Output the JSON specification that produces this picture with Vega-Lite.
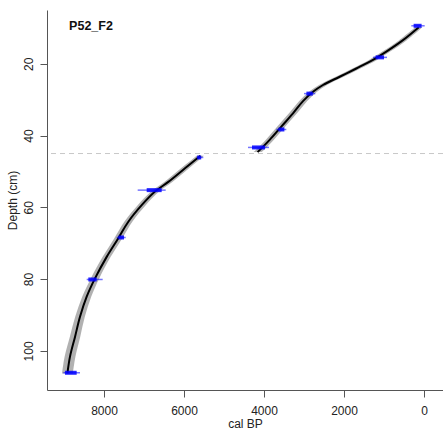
{
  "$schema": "https://vega.github.io/schema/vega-lite/v6.json",
  "width": 396,
  "height": 380,
  "autosize": {"type": "none"},
  "padding": {"left": 47, "top": 10, "right": 0, "bottom": 40},
  "background": "white",
  "config": {
    "view": {"stroke": null},
    "font": "Liberation Sans",
    "axis": {
      "grid": false,
      "domainColor": "#555555",
      "tickColor": "#555555",
      "tickSize": 7,
      "labelFont": "Liberation Sans",
      "labelFontSize": 12,
      "labelColor": "#222222",
      "titleFont": "Liberation Sans",
      "titleFontSize": 12,
      "titleFontWeight": "normal",
      "titleColor": "#222222"
    }
  },
  "datasets": {
    "model": [
      {"seg": "upper", "depth": 9.8, "age": 130, "lo": 40, "hi": 220},
      {"seg": "upper", "depth": 13.4, "age": 525, "lo": 430, "hi": 620},
      {"seg": "upper", "depth": 16.6, "age": 942, "lo": 845, "hi": 1040},
      {"seg": "upper", "depth": 18.9, "age": 1275, "lo": 1175, "hi": 1375},
      {"seg": "upper", "depth": 21.3, "age": 1692, "lo": 1592, "hi": 1792},
      {"seg": "upper", "depth": 23.6, "age": 2108, "lo": 2008, "hi": 2208},
      {"seg": "upper", "depth": 25.9, "age": 2525, "lo": 2425, "hi": 2625},
      {"seg": "upper", "depth": 27.8, "age": 2775, "lo": 2675, "hi": 2875},
      {"seg": "upper", "depth": 30.4, "age": 3025, "lo": 2925, "hi": 3125},
      {"seg": "upper", "depth": 33.8, "age": 3275, "lo": 3175, "hi": 3375},
      {"seg": "upper", "depth": 37.5, "age": 3567, "lo": 3467, "hi": 3667},
      {"seg": "upper", "depth": 41.2, "age": 3858, "lo": 3758, "hi": 3958},
      {"seg": "upper", "depth": 44.6, "age": 4160, "lo": 4060, "hi": 4260},
      {"seg": "lower", "depth": 45.6, "age": 5590, "lo": 5500, "hi": 5680},
      {"seg": "lower", "depth": 49.1, "age": 5975, "lo": 5875, "hi": 6075},
      {"seg": "lower", "depth": 52.9, "age": 6392, "lo": 6292, "hi": 6492},
      {"seg": "lower", "depth": 55.6, "age": 6725, "lo": 6625, "hi": 6825},
      {"seg": "lower", "depth": 59.4, "age": 7058, "lo": 6958, "hi": 7158},
      {"seg": "lower", "depth": 64.0, "age": 7392, "lo": 7292, "hi": 7492},
      {"seg": "lower", "depth": 68.6, "age": 7642, "lo": 7542, "hi": 7742},
      {"seg": "lower", "depth": 73.8, "age": 7933, "lo": 7833, "hi": 8033},
      {"seg": "lower", "depth": 79.8, "age": 8225, "lo": 8120, "hi": 8330},
      {"seg": "lower", "depth": 84.9, "age": 8433, "lo": 8320, "hi": 8545},
      {"seg": "lower", "depth": 90.5, "age": 8600, "lo": 8480, "hi": 8720},
      {"seg": "lower", "depth": 96.1, "age": 8725, "lo": 8595, "hi": 8855},
      {"seg": "lower", "depth": 101.6, "age": 8850, "lo": 8715, "hi": 8985},
      {"seg": "lower", "depth": 106.3, "age": 8915, "lo": 8780, "hi": 9050}
    ],
    "dates": [
      {"depth": 9.4, "age": 150, "lo": 317, "hi": -17, "ilo": 260, "ihi": 60},
      {"depth": 18.2, "age": 1108, "lo": 1275, "hi": 925, "ilo": 1210, "ihi": 1000},
      {"depth": 28.3, "age": 2858, "lo": 3000, "hi": 2717, "ilo": 2940, "ihi": 2780},
      {"depth": 38.3, "age": 3567, "lo": 3692, "hi": 3442, "ilo": 3640, "ihi": 3490},
      {"depth": 43.3, "age": 4150, "lo": 4400, "hi": 3875, "ilo": 4300, "ihi": 3975},
      {"depth": 46.1, "age": 5625, "lo": 5683, "hi": 5517, "ilo": 5670, "ihi": 5570},
      {"depth": 55.2, "age": 6767, "lo": 7158, "hi": 6458, "ilo": 6933, "ihi": 6558},
      {"depth": 68.4, "age": 7575, "lo": 7683, "hi": 7458, "ilo": 7640, "ihi": 7500},
      {"depth": 80.1, "age": 8292, "lo": 8433, "hi": 8033, "ilo": 8392, "ihi": 8183},
      {"depth": 106.1, "age": 8875, "lo": 9017, "hi": 8600, "ilo": 8975, "ihi": 8683}
    ],
    "hiatus": [{"depth": 45}],
    "label": [{"name": "P52_F2", "age": 8325, "depth": 9.4}]
  },
  "encoding": {
    "y": {
      "field": "depth",
      "type": "quantitative",
      "scale": {"domain": [5, 110.9], "reverse": true, "nice": false, "zero": false},
      "axis": {
        "title": "Depth (cm)",
        "values": [20, 40, 60, 80, 100],
        "labelAngle": -90,
        "labelAlign": "center",
        "labelBaseline": "bottom",
        "labelPadding": 5,
        "titlePadding": 3
      }
    }
  },
  "layer": [
    {
      "data": {"name": "hiatus"},
      "mark": {"type": "rule", "color": "#c8c8c8", "strokeDash": [5, 4], "strokeWidth": 1},
      "encoding": {}
    },
    {
      "data": {"name": "model"},
      "mark": {"type": "area", "orient": "horizontal", "color": "#a8a8a8", "opacity": 0.9, "interpolate": "catmull-rom"},
      "encoding": {
        "x": {
          "field": "lo",
          "type": "quantitative",
          "scale": {"domain": [-475, 9425], "reverse": true, "nice": false, "zero": false},
          "axis": {
            "title": "cal BP",
            "values": [8000, 6000, 4000, 2000, 0],
            "format": "d",
            "labelPadding": 8,
            "titlePadding": 2
          }
        },
        "x2": {"field": "hi"},
        "detail": {"field": "seg"}
      }
    },
    {
      "data": {"name": "model"},
      "mark": {"type": "line", "color": "black", "strokeWidth": 2, "interpolate": "catmull-rom"},
      "encoding": {
        "x": {"field": "age", "type": "quantitative"},
        "detail": {"field": "seg"},
        "order": {"field": "depth", "type": "quantitative"}
      }
    },
    {
      "data": {"name": "dates"},
      "mark": {"type": "rule", "color": "#0000ff", "opacity": 0.55, "strokeWidth": 1.5},
      "encoding": {
        "x": {"field": "lo", "type": "quantitative"},
        "x2": {"field": "hi"}
      }
    },
    {
      "data": {"name": "dates"},
      "mark": {"type": "rule", "color": "#0000ff", "opacity": 0.85, "strokeWidth": 4},
      "encoding": {
        "x": {"field": "ilo", "type": "quantitative"},
        "x2": {"field": "ihi"}
      }
    },
    {
      "data": {"name": "label"},
      "mark": {"type": "text", "font": "Liberation Sans", "fontSize": 12.5, "fontWeight": "bold", "color": "#111111", "align": "center", "baseline": "middle"},
      "encoding": {
        "x": {"field": "age", "type": "quantitative"},
        "text": {"field": "name"}
      }
    }
  ]
}
